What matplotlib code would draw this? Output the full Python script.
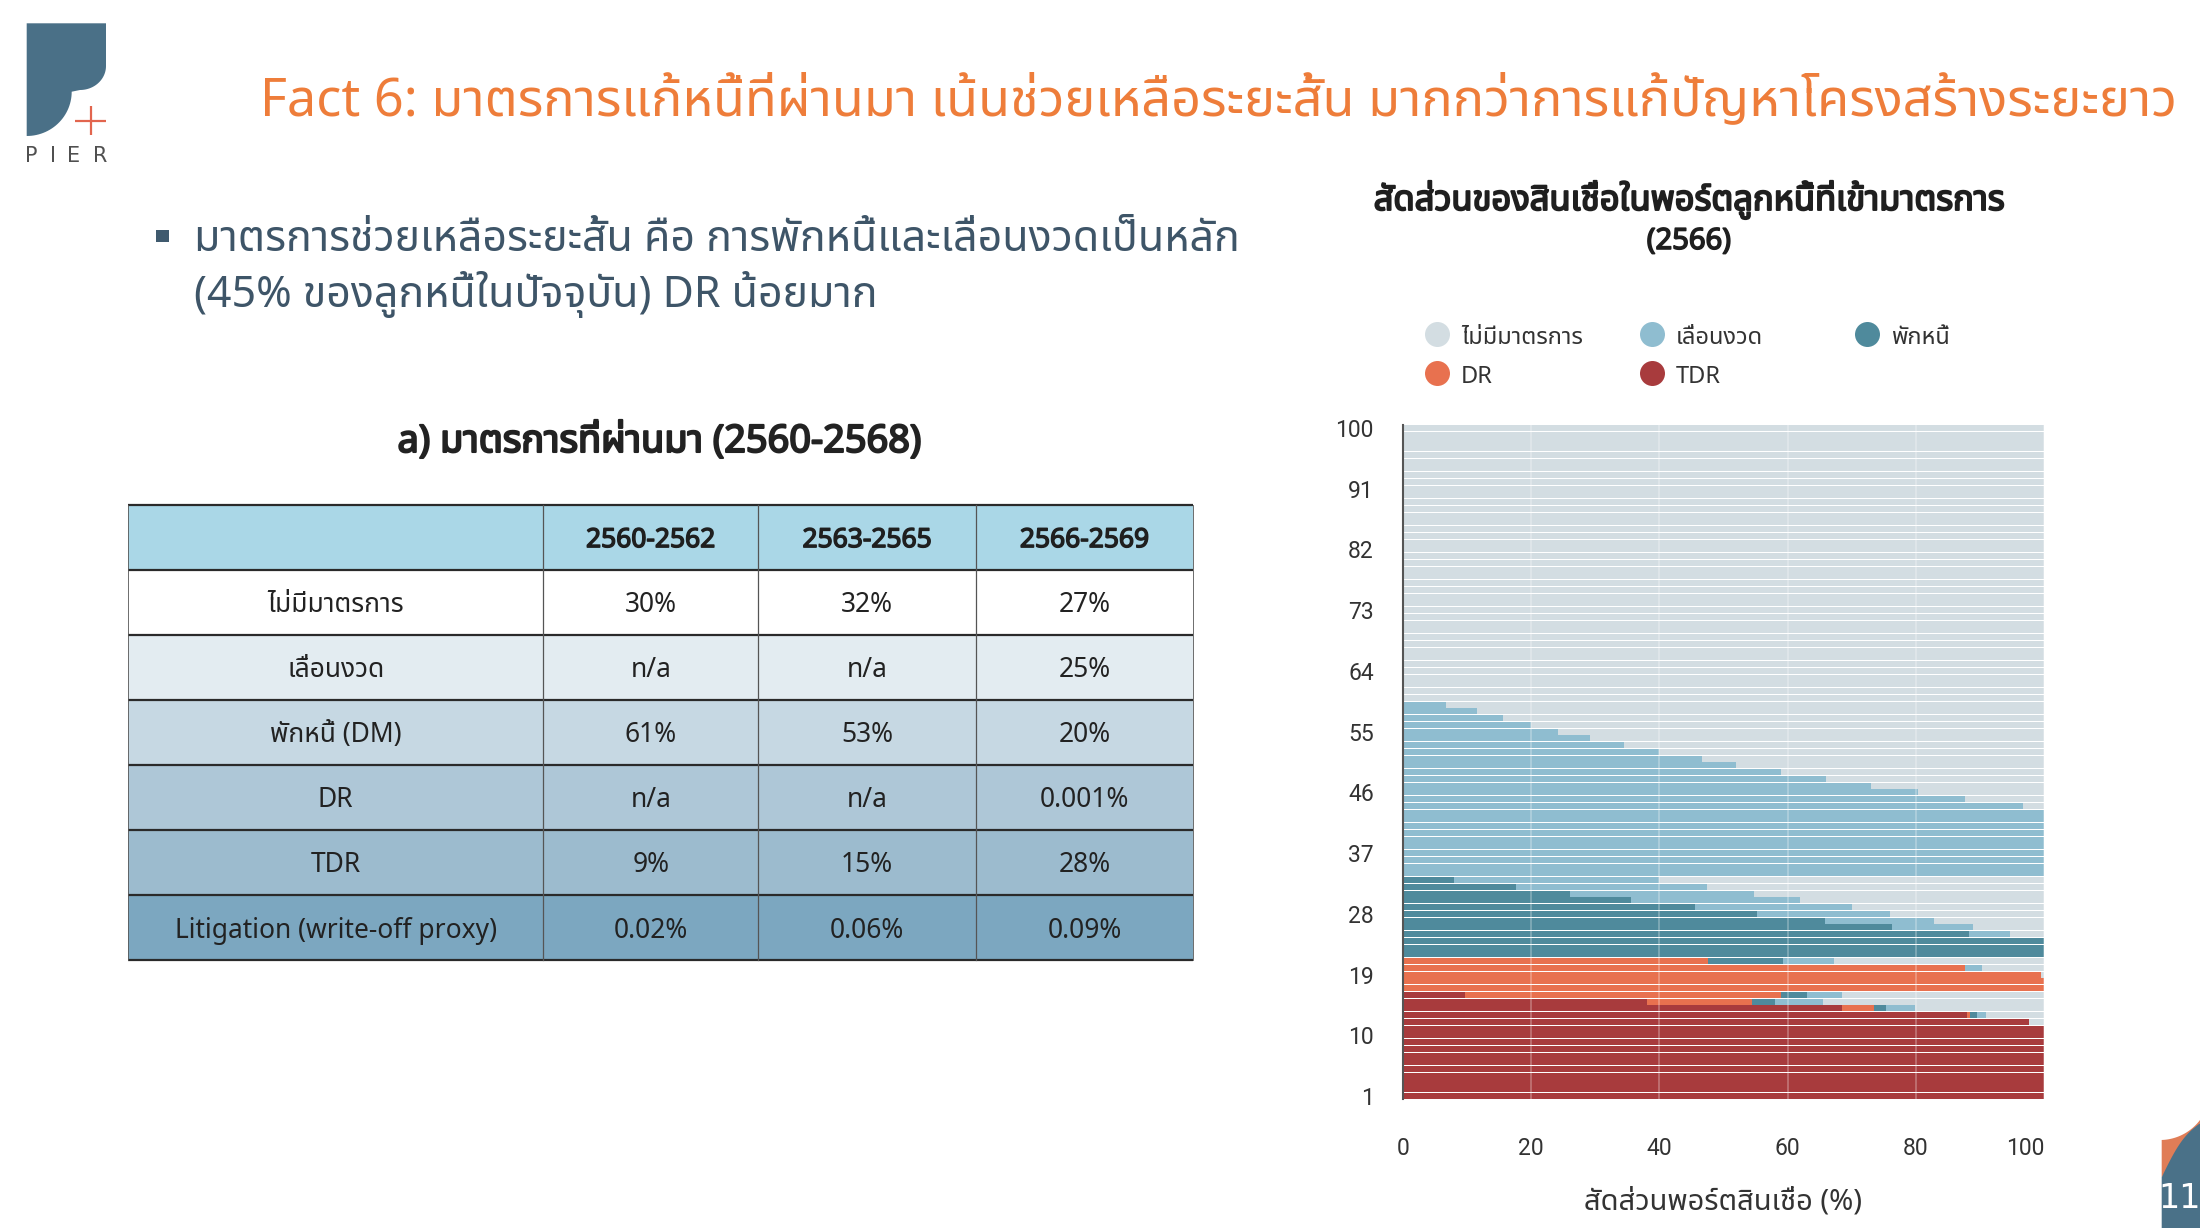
import numpy as np
import matplotlib
matplotlib.use("Agg")
import matplotlib.pyplot as plt
from matplotlib import font_manager as fm
from matplotlib import patheffects as pe
from matplotlib.patches import Rectangle, Polygon

# ---------------------------------------------------------------- data
series_names = ["TDR", "DR", "พักหนี้", "เลื่อนงวด", "ไม่มีมาตรการ"]
series_colors = ["#a83b3d", "#e8714f", "#4f8a9c", "#8fbdd0", "#d3dde2"]

rows = list(range(1, 101))

tdr = [
    100, 100, 100, 100, 100, 100, 100, 100, 100, 100,
    100, 97.7, 88, 68.5, 38, 9.7, 0, 0, 0, 0,
    0, 0, 0, 0, 0, 0, 0, 0, 0, 0,
    0, 0, 0, 0, 0, 0, 0, 0, 0, 0,
    0, 0, 0, 0, 0, 0, 0, 0, 0, 0,
    0, 0, 0, 0, 0, 0, 0, 0, 0, 0,
    0, 0, 0, 0, 0, 0, 0, 0, 0, 0,
    0, 0, 0, 0, 0, 0, 0, 0, 0, 0,
    0, 0, 0, 0, 0, 0, 0, 0, 0, 0,
    0, 0, 0, 0, 0, 0, 0, 0, 0, 0,
]
dr = [
    0, 0, 0, 0, 0, 0, 0, 0, 0, 0,
    0, 0, 0.5, 5, 16.5, 49.3, 100, 100, 99.6, 87.6,
    47.6, 0, 0, 0, 0, 0, 0, 0, 0, 0,
    0, 0, 0, 0, 0, 0, 0, 0, 0, 0,
    0, 0, 0, 0, 0, 0, 0, 0, 0, 0,
    0, 0, 0, 0, 0, 0, 0, 0, 0, 0,
    0, 0, 0, 0, 0, 0, 0, 0, 0, 0,
    0, 0, 0, 0, 0, 0, 0, 0, 0, 0,
    0, 0, 0, 0, 0, 0, 0, 0, 0, 0,
    0, 0, 0, 0, 0, 0, 0, 0, 0, 0,
]
dm = [
    0, 0, 0, 0, 0, 0, 0, 0, 0, 0,
    0, 0, 1, 1.8, 3.5, 4, 0, 0, 0, 0,
    11.7, 100, 100, 100, 88.3, 76.3, 65.8, 55.3, 45.6, 35.6,
    26, 17.6, 8, 0, 0, 0, 0, 0, 0, 0,
    0, 0, 0, 0, 0, 0, 0, 0, 0, 0,
    0, 0, 0, 0, 0, 0, 0, 0, 0, 0,
    0, 0, 0, 0, 0, 0, 0, 0, 0, 0,
    0, 0, 0, 0, 0, 0, 0, 0, 0, 0,
    0, 0, 0, 0, 0, 0, 0, 0, 0, 0,
    0, 0, 0, 0, 0, 0, 0, 0, 0, 0,
]
defer = [
    0, 0, 0, 0, 0, 0, 0, 0, 0, 0,
    0, 0, 1.5, 4.5, 7.6, 5.5, 0, 0, 0, 2.7,
    8, 0, 0, 0, 6.4, 12.7, 17, 20.7, 24.4, 26.4,
    28.7, 29.8, 32, 100, 100, 100, 100, 100, 100, 100,
    100, 100, 100, 96.7, 87.6, 80.4, 73, 66, 59, 52,
    46.6, 40, 34.4, 29.2, 24.2, 19.9, 15.6, 11.5, 6.7, 0,
    0, 0, 0, 0, 0, 0, 0, 0, 0, 0,
    0, 0, 0, 0, 0, 0, 0, 0, 0, 0,
    0, 0, 0, 0, 0, 0, 0, 0, 0, 0,
    0, 0, 0, 0, 0, 0, 0, 0, 0, 0,
]
none_ = [
    0, 0, 0, 0, 0, 0, 0, 0, 0, 0,
    0, 2.3, 9, 20.2, 34.4, 31.5, 0, 0, 0.4, 9.7,
    32.7, 0, 0, 0, 5.3, 11, 17.2, 24, 30, 38,
    45.3, 52.6, 60, 0, 0, 0, 0, 0, 0, 0,
    0, 0, 0, 3.3, 12.4, 19.6, 27, 34, 41, 48,
    53.4, 60, 65.6, 70.8, 75.8, 80.1, 84.4, 88.5, 93.3, 100,
    100, 100, 100, 100, 100, 100, 100, 100, 100, 100,
    100, 100, 100, 100, 100, 100, 100, 100, 100, 100,
    100, 100, 100, 100, 100, 100, 100, 100, 100, 100,
    100, 100, 100, 100, 100, 100, 100, 100, 100, 100,
]
series_values = [tdr, dr, dm, defer, none_]

ytick_vals = [1, 10, 19, 28, 37, 46, 55, 64, 73, 82, 91, 100]
xtick_vals = [0, 20, 40, 60, 80, 100]

# legend order as shown (row-major)
legend_order = ["ไม่มีมาตรการ", "เลื่อนงวด", "พักหนี้", "DR", "TDR"]

# table
table_cols = ["2560-2562", "2563-2565", "2566-2569"]
table_rows = ["ไม่มีมาตรการ", "เลื่อนงวด", "พักหนี้ (DM)", "DR", "TDR",
              "Litigation (write-off proxy)"]
table_vals = [
    ["30%", "32%", "27%"],
    ["n/a", "n/a", "25%"],
    ["61%", "53%", "20%"],
    ["n/a", "n/a", "0.001%"],
    ["9%", "15%", "28%"],
    ["0.02%", "0.06%", "0.09%"],
]
table_row_colors = ["#ffffff", "#e3ecf1", "#c6d8e3", "#aec7d7", "#9cbbce", "#7ca7c0"]
table_head_color = "#aad7e7"

# ---------------------------------------------------------------- fonts
def find_thai_fonts():
    found = []
    try:
        from fontTools.ttLib import TTFont
    except Exception:
        return found
    paths = set(f.fname for f in fm.fontManager.ttflist)
    try:
        paths |= set(fm.findSystemFonts())
    except Exception:
        pass
    for p in sorted(paths):
        if not p.lower().endswith((".ttf", ".otf", ".ttc")):
            continue
        try:
            tt = TTFont(p, fontNumber=0, lazy=True)
            cmap = tt.getBestCmap() or {}
            if 0x0E01 in cmap and 0x0E49 in cmap:
                try:
                    fm.fontManager.addfont(p)
                except Exception:
                    pass
                name = fm.FontProperties(fname=p).get_name()
                found.append(name)
        except Exception:
            pass
    return found

thai_found = find_thai_fonts()
prefs = ["Noto Sans Thai", "Noto Sans Thai UI", "Sarabun", "Kanit", "Prompt",
         "Loma", "Garuda", "Waree", "Umpush", "Laksaman", "Norasi", "Kinnari",
         "Sawasdee", "Tlwg Typo"]
thai_font = None
for p in prefs:
    if p in thai_found:
        thai_font = p
        break
if thai_font is None:
    cands = [n for n in thai_found if "Looped" not in n]
    if cands:
        thai_font = cands[0]
    elif thai_found:
        thai_font = thai_found[0]

FAM = ([thai_font] if thai_font else []) + ["Roboto", "DejaVu Sans"]
plt.rcParams["font.family"] = FAM

# ---------------------------------------------------------------- figure
W, H = 2200, 1228
fig = plt.figure(figsize=(22, 12.28), dpi=100)
fig.patch.set_facecolor("white")
ax0 = fig.add_axes([0, 0, 1, 1])
ax0.set_xlim(0, W)
ax0.set_ylim(H, 0)
ax0.axis("off")

to_fit = []
BOLD_K = 0.055

def txt(x, y, s, size, color="#222222", bold=False, ha="center",
        va="baseline", fit_w=None, lo=0.7, hi=1.3, **kw):
    t = ax0.text(x, y, s, fontsize=size, color=color, ha=ha, va=va,
                 family=FAM, **kw)
    if bold:
        t.set_path_effects([pe.withStroke(linewidth=size * BOLD_K,
                                          foreground=color)])
    if fit_w:
        to_fit.append((t, fit_w, size, lo, hi, bold, color))
    return t

# --- logo
logo_c = "#4a7087"
th = np.linspace(0, np.pi / 2, 30)
bowl = np.column_stack([80 + 26 * np.cos(th), 66 + 24 * np.sin(th)])
leg = np.column_stack([26.7 + 45 * np.cos(th), 91.7 + 44.3 * np.sin(th)])
logo_pts = np.vstack([[[26.7, 23.3], [106, 23.3]], bowl, leg, [[26.7, 136]]])
ax0.add_patch(Polygon(logo_pts, closed=True, fc=logo_c, ec="none"))
ax0.plot([75, 106], [120.7, 120.7], color="#e2654e", lw=1.6, solid_capstyle="butt")
ax0.plot([90.5, 90.5], [106, 135], color="#e2654e", lw=1.6, solid_capstyle="butt")
for ch, cx in zip("PIER", [31.7, 53.3, 73.3, 100.5]):
    ax0.text(cx, 161.7, ch, fontsize=15, color="#505050", ha="center",
             va="baseline", family=["DejaVu Sans"])

# --- title
txt(260, 115, "Fact 6: มาตรการแก้หนี้ที่ผ่านมา เน้นช่วยเหลือระยะสั้น มากกว่าการแก้ปัญหาโครงสร้างระยะยาว",
    36, color="#ee7d3a", ha="left", fit_w=1915)

# --- bullet
ax0.add_patch(Rectangle((156, 230), 13, 12, fc="#3f5a6e", ec="none"))
txt(194, 251, "มาตรการช่วยเหลือระยะสั้น คือ การพักหนี้และเลื่อนงวดเป็นหลัก", 25,
    color="#3e5568", ha="left", fit_w=1045)
t2 = txt(194, 307, "(45% ของลูกหนี้ในปัจจุบัน) DR น้อยมาก", 25, color="#3e5568", ha="left")

# --- table title
txt(660, 452, "a) มาตรการที่ผ่านมา (2560-2568)", 21, color="#222222",
    bold=True, fit_w=533)

# --- table
x_edges = [128.4, 543, 758.4, 975.8, 1193.3]
y_top, row_h = 504.6, 65.07
n_r = len(table_rows) + 1
ax0.add_patch(Rectangle((x_edges[0], y_top), x_edges[-1] - x_edges[0], row_h,
                        fc=table_head_color, ec="none"))
for j, c in enumerate(table_cols):
    cx = (x_edges[j + 1] + x_edges[j + 2]) / 2
    txt(cx, y_top + row_h / 2 + 10, c, 19, color="#1f1f1f", bold=True)
for i, (rname, vals) in enumerate(zip(table_rows, table_vals)):
    y0 = y_top + row_h * (i + 1)
    ax0.add_patch(Rectangle((x_edges[0], y0), x_edges[-1] - x_edges[0], row_h,
                            fc=table_row_colors[i], ec="none"))
    cyb = y0 + row_h / 2 + 10
    txt((x_edges[0] + x_edges[1]) / 2, cyb, rname, 19, color="#222222")
    for j, v in enumerate(vals):
        txt((x_edges[j + 1] + x_edges[j + 2]) / 2, cyb, v, 19, color="#222222")
for i in range(n_r + 1):
    yy = y_top + row_h * i
    ax0.plot([x_edges[0], x_edges[-1]], [yy, yy], color="#2a2a2a", lw=1.6,
             solid_capstyle="butt")
for k, xx in enumerate(x_edges):
    ax0.plot([xx, xx], [y_top, y_top + row_h * n_r], color="#555555",
             lw=0.9 if 0 < k < len(x_edges) - 1 else 0.6)

# --- chart title
txt(1689, 210, "สัดส่วนของสินเชื่อในพอร์ตลูกหนี้ที่เข้ามาตรการ", 20,
    color="#1f1f1f", bold=True, fit_w=631)
txt(1689, 249, "(2566)", 21, color="#1f1f1f", bold=True)

# --- legend (manual, series colours)
leg_x = [1437, 1652, 1867]
leg_y = [334, 373]
for k, name in enumerate(legend_order):
    r, c = divmod(k, 3)
    col = series_colors[series_names.index(name)]
    ax0.plot(leg_x[c], leg_y[r], "o", ms=18, color=col, mec="none")
    txt(leg_x[c] + 24, leg_y[r] + 10, name, 17, color="#333333", ha="left")

# --- page corner
xs = np.linspace(2161.7, 2200, 30)
arc = np.column_stack([xs, 1090 + np.sqrt(np.clip(2500 - (xs - 2160) ** 2, 0, None))])
ax0.add_patch(Polygon(np.vstack([arc, [[2200, 1123.3], [2161.7, 1177.3]]]),
                      closed=True, fc="#e07d57", ec="none"))
tt = np.linspace(0, 1, 20)
diag = np.column_stack([2161.7 + 38.3 * tt, 1177.3 - 54 * tt - 8 * np.sin(np.pi * tt)])
ax0.add_patch(Polygon(np.vstack([diag, [[2200, 1228], [2161.7, 1228]]]),
                      closed=True, fc="#4a7188", ec="none"))
ax0.text(2180, 1199, "11", fontsize=24, color="white", ha="center", va="center",
         family=["DejaVu Sans"])

# ---------------------------------------------------------------- chart axes
ax_l, ax_r = 1403, 2044
ax_t, ax_b = 424.6, 1099.4
ax = fig.add_axes([ax_l / W, 1 - ax_b / H, (ax_r - ax_l) / W, (ax_b - ax_t) / H])
ax.set_facecolor("white")
left = np.zeros(len(rows))
for name, vals, col in zip(series_names, series_values, series_colors):
    v = np.array(vals, dtype=float)
    ax.barh(rows, v, left=left, height=0.9, color=col, edgecolor="none",
            label=name, zorder=2)
    left += v
ax.set_xlim(0, 100)
ax.set_ylim(0.5, 100.5)
ax.set_yticks(ytick_vals)
ax.set_yticklabels([str(v) for v in ytick_vals])
ax.set_xticks(xtick_vals)
ax.set_xticklabels([str(v) for v in xtick_vals])
ax.tick_params(axis="y", length=0, pad=21, labelsize=16.5, labelcolor="#333333")
ax.tick_params(axis="x", length=0, pad=27, labelsize=16.5, labelcolor="#333333")
for lab in ax.get_xticklabels() + ax.get_yticklabels():
    lab.set_family(["Roboto", "DejaVu Sans"])
ax.get_xticklabels()[-1].set_ha("right")
for s in ["top", "right", "bottom"]:
    ax.spines[s].set_visible(False)
ax.spines["left"].set_color("#555555")
ax.spines["left"].set_linewidth(1.5)
ax.spines["left"].set_zorder(4)
ax.xaxis.grid(True, color="white", alpha=0.3, lw=1.2, zorder=3)
ax.set_axisbelow(False)

# --- x label
txt(1723, 1209, "สัดส่วนพอร์ตสินเชื่อ (%)", 18, color="#333333", fit_w=278)

# ---------------------------------------------------------------- fit texts
renderer = fig.canvas.get_renderer()
for t, w, size, lo, hi, bold, color in to_fit:
    bb = t.get_window_extent(renderer=renderer)
    if bb.width > 0:
        f = min(max(w / bb.width, lo), hi)
        t.set_fontsize(size * f)
        if bold:
            t.set_path_effects([pe.withStroke(linewidth=size * f * BOLD_K,
                                              foreground=color)])
        if t.get_text().startswith("มาตรการช่วย"):
            t2.set_fontsize(size * f)

fig.savefig("out.png", dpi=100, facecolor="white")
